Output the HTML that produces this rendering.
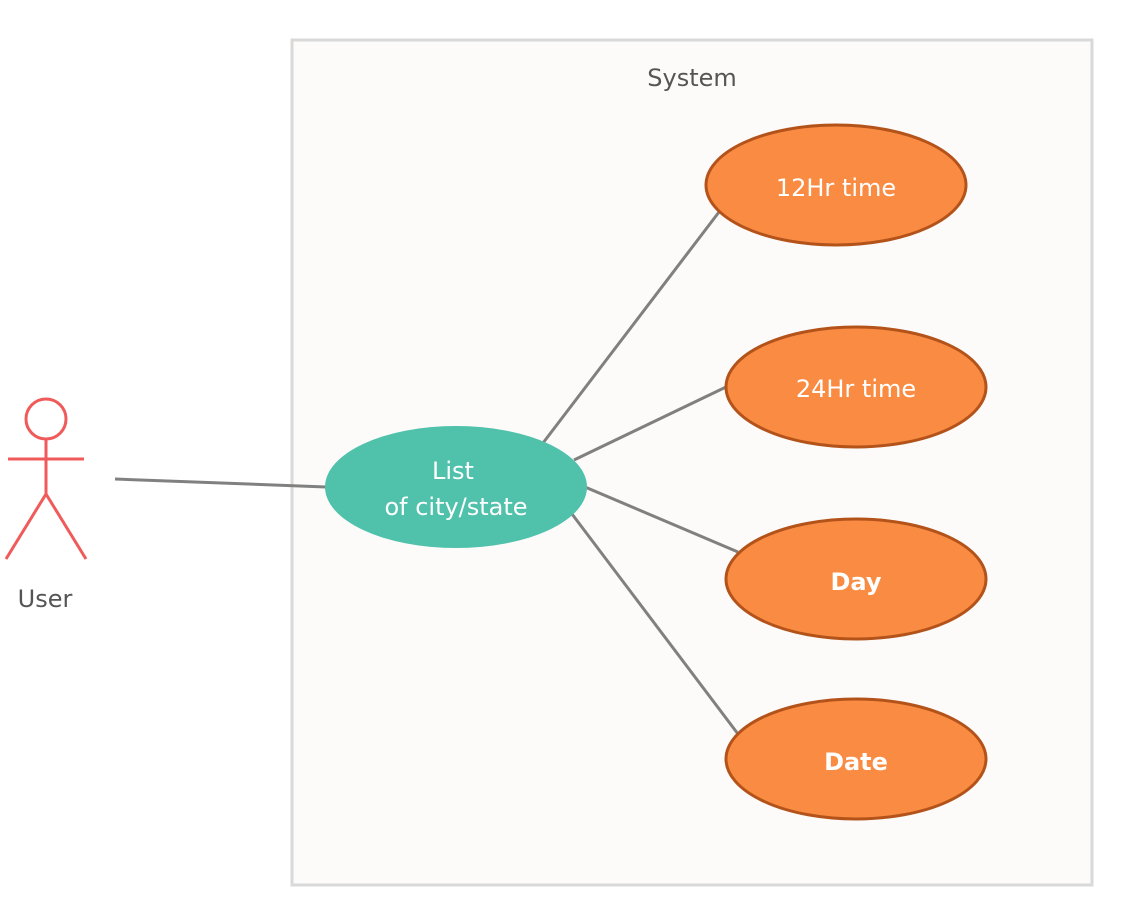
<!DOCTYPE html>
<html><head><style>html,body{margin:0;padding:0;background:#fff;}</style></head>
<body>
<svg width="1133" height="910" xmlns="http://www.w3.org/2000/svg" font-family="'DejaVu Sans', sans-serif">
<rect x="292" y="40" width="800" height="845" fill="#fcfbfa" stroke="#d9d9d9" stroke-width="3"/>
<text x="692" y="86" font-size="24" fill="#555" text-anchor="middle">System</text>
<g stroke="#808080" stroke-width="3">
<line x1="115" y1="479" x2="326" y2="487"/>
<line x1="543" y1="443" x2="719" y2="212"/>
<line x1="574" y1="460" x2="726" y2="387"/>
<line x1="585" y1="487" x2="738" y2="552"/>
<line x1="572" y1="514" x2="738" y2="734"/>
</g>
<g fill="#f98b42" stroke="#b3531a" stroke-width="3">
<ellipse cx="836" cy="185" rx="130" ry="60"/>
<ellipse cx="856" cy="387" rx="130" ry="60"/>
<ellipse cx="856" cy="579" rx="130" ry="60"/>
<ellipse cx="856" cy="759" rx="130" ry="60"/>
</g>
<ellipse cx="456" cy="487" rx="131" ry="61" fill="#50c1aa"/>
<g fill="#fff" font-size="24" text-anchor="middle">
<text x="836" y="196">12Hr time</text>
<text x="856" y="397">24Hr time</text>
<text x="856" y="590" font-weight="bold">Day</text>
<text x="856" y="770" font-weight="bold">Date</text>
<text x="453" y="479">List</text>
<text x="456" y="515">of city/state</text>
</g>
<g stroke="#f05a5a" stroke-width="3" fill="none">
<circle cx="46" cy="419" r="20"/>
<line x1="46" y1="439" x2="46" y2="494"/>
<line x1="8" y1="459" x2="84" y2="459"/>
<line x1="46" y1="494" x2="6" y2="559"/>
<line x1="46" y1="494" x2="86" y2="559"/>
</g>
<text x="45" y="607" font-size="24" fill="#555" text-anchor="middle">User</text>
</svg>
</body></html>
